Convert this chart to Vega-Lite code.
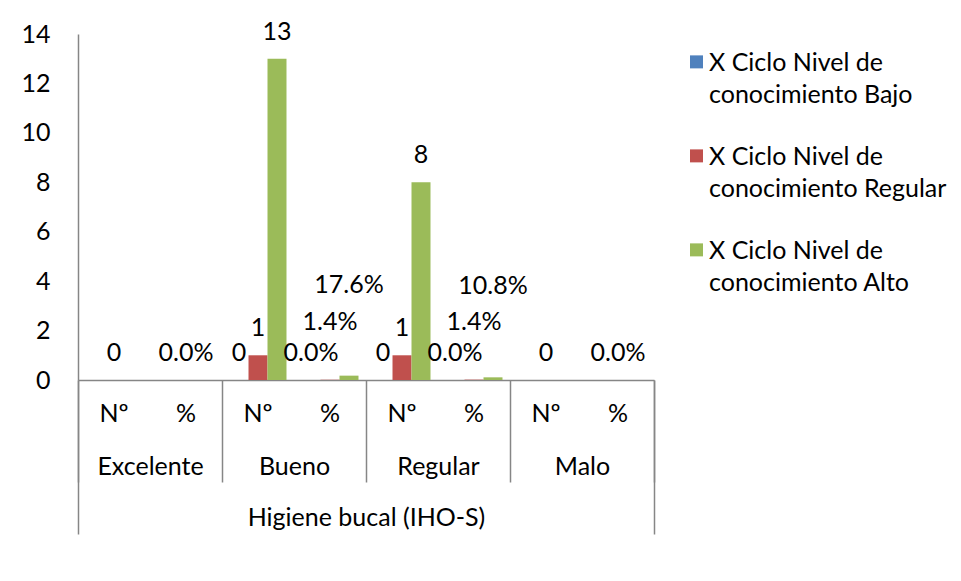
{
  "$schema": "https://vega.github.io/schema/vega-lite/v6.json",
  "width": 576,
  "height": 346,
  "autosize": "none",
  "padding": {"left": 78, "top": 34, "right": 307, "bottom": 201},
  "background": "white",
  "config": {
    "font": "Lato",
    "view": {"stroke": null},
    "axis": {"labelFont": "Lato", "labelFontSize": 25, "labelColor": "#000000", "domainColor": "#868686", "tickColor": "#868686", "grid": false, "title": null},
    "legend": {"labelFont": "Lato", "labelFontSize": 25, "labelColor": "#000000"},
    "style": {"guide-label": {"lineHeight": 32}}
  },
  "datasets": {
    "main": [
      {"group": "Excelente", "sub": "Nº", "cat": "Excelente|Nº", "series": "Regular", "value": 0, "label": "0"},
      {"group": "Excelente", "sub": "%", "cat": "Excelente|%", "series": "Regular", "value": 0, "label": "0.0%"},
      {"group": "Bueno", "sub": "Nº", "cat": "Bueno|Nº", "series": "Bajo", "value": 0, "label": "0"},
      {"group": "Bueno", "sub": "Nº", "cat": "Bueno|Nº", "series": "Regular", "value": 1, "label": "1"},
      {"group": "Bueno", "sub": "Nº", "cat": "Bueno|Nº", "series": "Alto", "value": 13, "label": "13"},
      {"group": "Bueno", "sub": "%", "cat": "Bueno|%", "series": "Bajo", "value": 0, "label": "0.0%"},
      {"group": "Bueno", "sub": "%", "cat": "Bueno|%", "series": "Regular", "value": 0.014, "label": "1.4%"},
      {"group": "Bueno", "sub": "%", "cat": "Bueno|%", "series": "Alto", "value": 0.176, "label": "17.6%"},
      {"group": "Regular", "sub": "Nº", "cat": "Regular|Nº", "series": "Bajo", "value": 0, "label": "0"},
      {"group": "Regular", "sub": "Nº", "cat": "Regular|Nº", "series": "Regular", "value": 1, "label": "1"},
      {"group": "Regular", "sub": "Nº", "cat": "Regular|Nº", "series": "Alto", "value": 8, "label": "8"},
      {"group": "Regular", "sub": "%", "cat": "Regular|%", "series": "Bajo", "value": 0, "label": "0.0%"},
      {"group": "Regular", "sub": "%", "cat": "Regular|%", "series": "Regular", "value": 0.014, "label": "1.4%"},
      {"group": "Regular", "sub": "%", "cat": "Regular|%", "series": "Alto", "value": 0.108, "label": "10.8%"},
      {"group": "Malo", "sub": "Nº", "cat": "Malo|Nº", "series": "Regular", "value": 0, "label": "0"},
      {"group": "Malo", "sub": "%", "cat": "Malo|%", "series": "Regular", "value": 0, "label": "0.0%"}
    ],
    "groups": [
      {"group": "Excelente"}, {"group": "Bueno"}, {"group": "Regular"}, {"group": "Malo"}
    ],
    "dims": [
      {"dim": "Higiene bucal (IHO-S)"}
    ]
  },
  "layer": [
    {
      "data": {"name": "main"},
      "encoding": {
        "x": {
          "field": "cat", "type": "nominal",
          "sort": ["Excelente|Nº", "Excelente|%", "Bueno|Nº", "Bueno|%", "Regular|Nº", "Regular|%", "Malo|Nº", "Malo|%"],
          "scale": {"domain": ["Excelente|Nº", "Excelente|%", "Bueno|Nº", "Bueno|%", "Regular|Nº", "Regular|%", "Malo|Nº", "Malo|%"], "paddingInner": 0, "paddingOuter": 0},
          "axis": {"labelExpr": "split(datum.label, '|')[1]", "labelAngle": 0, "ticks": false, "labelPadding": 33, "labelBaseline": "middle", "domainWidth": 1.5}
        },
        "xOffset": {
          "field": "series", "type": "nominal",
          "scale": {"domain": ["Bajo", "Regular", "Alto"], "paddingInner": 0, "paddingOuter": 0.395}
        },
        "y": {
          "field": "value", "type": "quantitative",
          "scale": {"domain": [0, 14], "nice": false},
          "axis": {"values": [0, 2, 4, 6, 8, 10, 12, 14], "ticks": false, "labelPadding": 28, "domainWidth": 1.5}
        }
      },
      "layer": [
        {
          "mark": {"type": "bar"},
          "encoding": {
            "color": {
              "field": "series", "type": "nominal",
              "scale": {"domain": ["Bajo", "Regular", "Alto"], "range": ["#4F81BD", "#C0504D", "#9BBB59"]},
              "legend": {"title": null, "orient": "right", "offset": 26, "padding": 4, "symbolType": "M-1,0.75H1V2.75H-1Z", "symbolSize": 169, "symbolStrokeWidth": 0, "labelOffset": 0, "rowPadding": 24, "labelLimit": 400, "labelBaseline": "top", "labelExpr": "['X Ciclo Nivel de', 'conocimiento ' + datum.label]"}
            }
          }
        },
        {
          "transform": [{"filter": "datum.sub == 'Nº' || datum.value == 0"}],
          "mark": {"type": "text", "baseline": "middle", "fontSize": 25, "dy": -27, "color": "#000000"},
          "encoding": {"text": {"field": "label"}}
        },
        {
          "transform": [{"filter": "datum.sub == '%' && datum.series == 'Regular' && datum.value > 0"}],
          "mark": {"type": "text", "baseline": "middle", "fontSize": 25, "dy": -58, "color": "#000000"},
          "encoding": {"text": {"field": "label"}}
        },
        {
          "transform": [{"filter": "datum.sub == '%' && datum.series == 'Alto'"}],
          "mark": {"type": "text", "baseline": "middle", "fontSize": 25, "dy": -91, "color": "#000000"},
          "encoding": {"text": {"field": "label"}}
        }
      ]
    },
    {
      "data": {"name": "groups"},
      "mark": {"type": "tick", "opacity": 0},
      "encoding": {
        "x": {
          "field": "group", "type": "nominal",
          "sort": ["Excelente", "Bueno", "Regular", "Malo"],
          "scale": {"domain": ["Excelente", "Bueno", "Regular", "Malo"], "paddingInner": 0, "paddingOuter": 0},
          "axis": {"orient": "bottom", "labelAngle": 0, "tickBand": "extent", "tickSize": 102, "tickWidth": 1.5, "domain": false, "labelBaseline": "middle", "labelPadding": -16}
        }
      }
    },
    {
      "data": {"name": "dims"},
      "mark": {"type": "tick", "opacity": 0},
      "encoding": {
        "x": {
          "field": "dim", "type": "nominal",
          "scale": {"paddingInner": 0, "paddingOuter": 0},
          "axis": {"orient": "bottom", "labelAngle": 0, "tickBand": "extent", "tickSize": 154, "tickWidth": 1.5, "domain": false, "labelBaseline": "middle", "labelPadding": -17, "labelLimit": 500}
        }
      }
    }
  ],
  "resolve": {"scale": {"x": "independent"}}
}
